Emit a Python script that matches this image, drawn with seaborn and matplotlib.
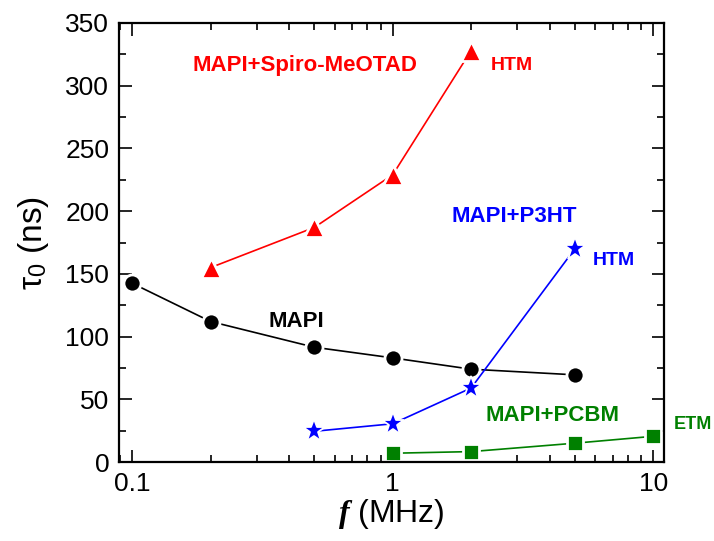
import numpy as np
import pandas as pd
import matplotlib
matplotlib.use("Agg")
import matplotlib.pyplot as plt
import seaborn as sns
from matplotlib.ticker import MultipleLocator, FixedLocator, FixedFormatter, LogLocator, NullFormatter

# ---- data ----
mapi_f = [0.1, 0.2, 0.5, 1, 2, 5]
mapi_tau = [142.5, 112, 91.5, 83, 74, 69.5]

spiro_f = [0.2, 0.5, 1, 2]
spiro_tau = [155, 187, 229, 328]

p3ht_f = [0.5, 1, 2, 5]
p3ht_tau = [24.5, 30.5, 59, 170]

pcbm_f = [1, 2, 5, 10]
pcbm_tau = [7, 8.3, 15, 20.5]

xtick_vals = [0.1, 1, 10]
xtick_labels = ["0.1", "1", "10"]
ytick_vals = [0, 50, 100, 150, 200, 250, 300, 350]

sns.set_style("ticks")
plt.rcParams["font.family"] = ["Liberation Sans", "DejaVu Sans"]
plt.rcParams["mathtext.fontset"] = "custom"
plt.rcParams["mathtext.rm"] = "Liberation Sans"
plt.rcParams["mathtext.it"] = "Liberation Serif:italic:bold"
for k in ["text.color", "axes.labelcolor", "xtick.color", "ytick.color",
          "xtick.labelcolor", "ytick.labelcolor", "axes.edgecolor"]:
    plt.rcParams[k] = "black"

fig = plt.figure(figsize=(7.14, 5.41), dpi=100)
ax = fig.add_axes([0.1667, 0.146, 0.930 - 0.1667, 0.9575 - 0.146])

lw = 1.2
series = [
    (mapi_f, mapi_tau, "o", "black", 12.3, 2.0),
    (spiro_f, spiro_tau, "^", "#FF0000", 14.0, 2.0),
    (p3ht_f, p3ht_tau, "*", "#0000FF", 17.0, 1.3),
    (pcbm_f, pcbm_tau, "s", "#008000", 12.0, 2.0),
]
for fx, ty, mk, col, ms, mew in series:
    df = pd.DataFrame({"f": fx, "tau": ty})
    sns.lineplot(data=df, x="f", y="tau", marker=mk, color=col, ax=ax,
                 linewidth=lw, markersize=ms, markeredgecolor="white",
                 markeredgewidth=mew, clip_on=False)

ax.set_xscale("log")
ax.set_xlim(0.089, 11.0)
ax.set_ylim(0, 350)

ax.xaxis.set_major_locator(FixedLocator(xtick_vals))
ax.xaxis.set_major_formatter(FixedFormatter(xtick_labels))
ax.xaxis.set_minor_locator(LogLocator(base=10, subs=np.arange(2, 10)))
ax.xaxis.set_minor_formatter(NullFormatter())
ax.yaxis.set_major_locator(FixedLocator(ytick_vals))
ax.yaxis.set_minor_locator(MultipleLocator(25))

for s in ax.spines.values():
    s.set_linewidth(1.6)
    s.set_color("black")
    s.set_visible(True)

ax.tick_params(which="both", direction="in", top=True, right=True,
               color="black", labelcolor="black", width=1.2)
ax.tick_params(which="major", length=9, labelsize=19, pad=7)
ax.tick_params(which="minor", length=5)

ax.set_xlabel(r"$\mathit{f}$ (MHz)", fontsize=23, labelpad=1, color="black")
ax.set_ylabel(r"τ$_0$ (ns)", fontsize=24, labelpad=10, color="black")

# annotations
ax.text(0.170, 316, "MAPI+Spiro-MeOTAD", color="#FF0000", fontsize=16,
        fontweight="bold", ha="left", va="center")
ax.text(2.38, 316.5, "HTM", color="#FF0000", fontsize=14,
        fontweight="bold", ha="left", va="center")
ax.text(1.68, 195.5, "MAPI+P3HT", color="#0000FF", fontsize=16,
        fontweight="bold", ha="left", va="center")
ax.text(5.84, 161, "HTM", color="#0000FF", fontsize=14,
        fontweight="bold", ha="left", va="center")
ax.text(0.334, 112, "MAPI", color="black", fontsize=16,
        fontweight="bold", ha="left", va="center")
ax.text(2.275, 36.7, "MAPI+PCBM", color="#008000", fontsize=16,
        fontweight="bold", ha="left", va="center")
ax.text(12.0, 30.3, "ETM", color="#008000", fontsize=13,
        fontweight="bold", ha="left", va="center", clip_on=False)

fig.savefig("out.png", dpi=100)
